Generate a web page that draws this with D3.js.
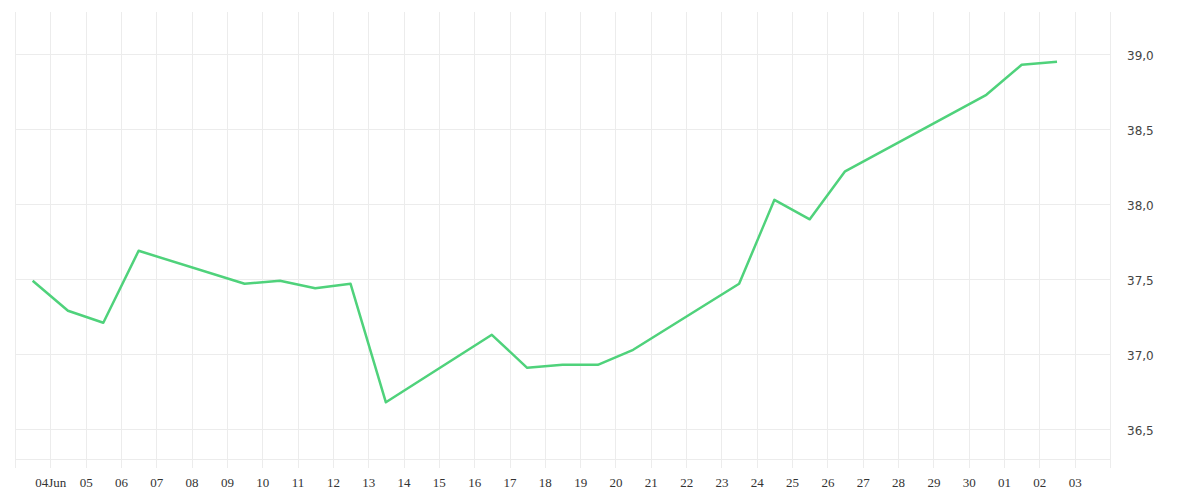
<!DOCTYPE html>
<html lang="en">
<head>
    <meta charset="UTF-8">
    <title>Chart</title>
    <script src="https://cdn.jsdelivr.net/npm/d3@7"></script>
    <style>
        body {
            margin: 0;
            background: #ffffff;
        }

        #graphDiv {
            width: 1200px;
            height: 500px;
        }

        .xAxis text {
            font-family: "Liberation Serif", serif;
            font-size: 13px;
            fill: #333;
        }

        .yAxis text {
            font-family: "DejaVu Sans", sans-serif;
            font-size: 12px;
            fill: #444;
        }
    </style>
</head>
<body>
<div id="graphDiv"></div>

<script>
    // measurement days (values taken around midday)
    var dates = ["2019-06-03", "2019-06-04", "2019-06-05", "2019-06-06", "2019-06-09", "2019-06-10",
        "2019-06-11", "2019-06-12", "2019-06-13", "2019-06-16", "2019-06-17", "2019-06-18",
        "2019-06-19", "2019-06-20", "2019-06-23", "2019-06-24", "2019-06-25", "2019-06-26",
        "2019-06-30", "2019-07-01", "2019-07-02"];
    var values = [37.49, 37.29, 37.21, 37.69, 37.47, 37.49,
        37.44, 37.47, 36.68, 37.13, 36.91, 36.93,
        36.93, 37.03, 37.47, 38.03, 37.90, 38.22,
        38.73, 38.93, 38.95];
    var yTicks = [36.5, 37.0, 37.5, 38.0, 38.5, 39.0];

    var parseDay = d3.timeParse("%Y-%m-%d");

    function drawChart() {
        var selector = "#graphDiv";
        var w0 = 1200;
        var h0 = 500;

        var left = 15, right = 1110, top = 12, bottom = 459;

        var x = d3.scaleTime()
            .domain([parseDay("2019-06-03"), parseDay("2019-07-04")])
            .range([left, right]);
        var y = d3.scaleLinear()
            .domain([36.302, 39.282])
            .range([bottom, top]);

        var data = [];
        for (var i = 0; i < dates.length; i++) {
            var d = parseDay(dates[i]);
            d.setHours(12);
            data.push({date: d, value: values[i]});
        }

        var svg = d3.select(selector).append("svg")
            .attr("width", w0)
            .attr("height", h0);

        // vertical grid, every day (incl. the borders)
        var days = d3.timeDay.range(x.domain()[0], d3.timeDay.offset(x.domain()[1], 1));
        svg.append("g").selectAll("line")
            .data(days).enter().append("line")
            .attr("x1", function (d) {
                return Math.round(x(d)) + 0.5;
            })
            .attr("x2", function (d) {
                return Math.round(x(d)) + 0.5;
            })
            .attr("y1", top)
            .attr("y2", bottom + 9)
            .style("stroke", "#ececec")
            .style("stroke-width", 1);

        // horizontal grid
        svg.append("g").selectAll("line")
            .data(yTicks).enter().append("line")
            .attr("x1", left)
            .attr("x2", right)
            .attr("y1", function (d) {
                return Math.round(y(d)) + 0.5;
            })
            .attr("y2", function (d) {
                return Math.round(y(d)) + 0.5;
            })
            .style("stroke", "#ececec");

        svg.append("line")
            .attr("x1", left).attr("x2", right)
            .attr("y1", bottom + 0.5).attr("y2", bottom + 0.5)
            .style("stroke", "#ececec");

        // x labels
        var labelDays = days.slice(1, days.length - 1);
        var xAxis = d3.axisBottom(x)
            .tickValues(labelDays)
            .tickSize(0)
            .tickPadding(19)
            .tickFormat(function (d, i) {
                if (i == 0)
                    return d3.timeFormat("%d%b")(d);
                return d3.timeFormat("%d")(d);
            });
        svg.append("g")
            .attr("class", "xAxis")
            .attr("transform", "translate(0," + bottom + ")")
            .call(xAxis)
            .call(function (g) {
                g.select(".domain").remove();
            });

        // y labels on the right
        var yAxis = d3.axisRight(y)
            .tickValues(yTicks)
            .tickSize(0)
            .tickPadding(17)
            .tickFormat(function (d) {
                return d3.format(".1f")(d).replace(".", ",");
            });
        svg.append("g")
            .attr("class", "yAxis")
            .attr("transform", "translate(" + right + ",1.5)")
            .call(yAxis)
            .call(function (g) {
                g.select(".domain").remove();
            });

        var line = d3.line()
            .x(function (d) {
                return x(d.date);
            })
            .y(function (d) {
                return y(d.value);
            });

        svg.append("path")
            .datum(data)
            .attr("d", line)
            .style("fill", "none")
            .style("stroke", "#4fd27b")
            .style("stroke-width", 2.5)
            .style("stroke-linejoin", "round");
    }

    drawChart();
</script>
</body>
</html>
